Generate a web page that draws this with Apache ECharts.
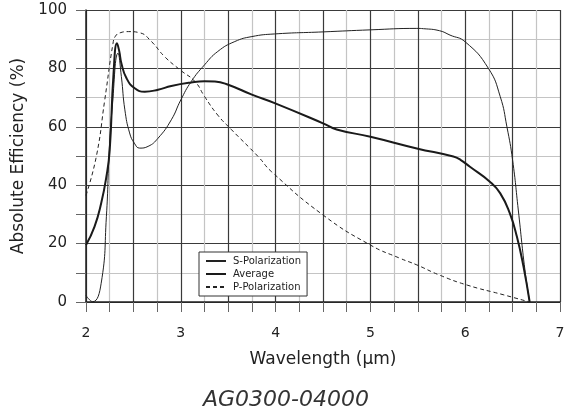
<!DOCTYPE html>
<html>
<head>
<meta charset="utf-8">
<script src="https://cdn.jsdelivr.net/npm/echarts@6/dist/echarts.min.js"></script>
<style>
html,body{margin:0;padding:0;background:#fff;}
#chart{width:571px;height:414px;}
</style>
</head>
<body>
<div id="chart"></div>
<script>
// Wavelength (µm) / efficiency (%)
const sLambda = [2.0, 2.07, 2.16, 2.215, 2.245, 2.275, 2.338, 2.373, 2.41, 2.46, 2.51, 2.567, 2.655, 2.76, 2.9, 3.0, 3.11, 3.25, 3.39, 3.57, 3.75, 3.99, 4.5, 5.0, 5.49, 5.56, 5.73, 5.84, 6.0, 6.245, 6.37, 6.44, 6.5, 6.56, 6.63, 6.68];
const sValues = [2.2, 0.1, 6.4, 29.2, 52, 66, 85.2, 77.2, 65.8, 57.9, 54.4, 52.7, 53.3, 56.1, 62.4, 69.2, 75.5, 81.2, 85.8, 89.2, 90.9, 91.8, 92.5, 93.2, 93.7, 93.6, 92.9, 91.4, 89.1, 80, 70.3, 60, 48.6, 31.5, 11, 0];

const avgLambda = [2.0, 2.09, 2.16, 2.215, 2.25, 2.29, 2.327, 2.35, 2.373, 2.426, 2.514, 2.62, 2.76, 2.9, 3.11, 3.25, 3.36, 3.5, 3.75, 3.99, 4.5, 4.644, 5.0, 5.49, 5.875, 5.95, 6.05, 6.26, 6.37, 6.47, 6.545, 6.615, 6.68];
const avgValues = [19.5, 25.8, 33.8, 42.9, 52, 78, 88.6, 86, 81.8, 76.7, 73.2, 72, 72.7, 74, 75.2, 75.6, 75.5, 74.4, 71, 68.1, 61.2, 59.1, 56.6, 52.6, 49.8, 48.7, 46.3, 41.2, 37.2, 30.4, 22.4, 12.1, 0];

const pLambda = [2.0, 2.11, 2.197, 2.285, 2.31, 2.36, 2.45, 2.567, 2.69, 2.83, 3.0, 3.15, 3.25, 3.39, 3.535, 3.816, 3.958, 4.5, 5.0, 5.31, 5.49, 5.73, 6.02, 6.4, 6.68];
const pValues = [36.5, 50, 69, 88.6, 91, 92.2, 92.6, 92.2, 89.2, 84, 79.3, 75.5, 70.4, 64, 59, 49.8, 44.6, 29.8, 19.5, 15, 12.7, 9.2, 5.8, 2.5, 0];

const seriesNames = ['S-Polarization', 'Average', 'P-Polarization'];
const xTickLabels = ['2', '3', '4', '5', '6', '7'];
const yTickLabels = ['0', '20', '40', '60', '80', '100'];

function pairs(xs, ys) { return xs.map((x, i) => [x, ys[i]]); }

const FONT = '"DejaVu Sans", sans-serif';
const chart = echarts.init(document.getElementById('chart'), null, {renderer: 'canvas'});
chart.setOption({
  backgroundColor: '#ffffff',
  animation: false,
  grid: {left: 86, right: 11, top: 10, bottom: 112, containLabel: false},
  legend: {
    orient: 'vertical',
    left: 199, top: 252,
    width: 110,
    data: seriesNames,
    itemWidth: 20, itemHeight: 8, itemGap: 3,
    borderColor: '#333', borderWidth: 1,
    padding: [4, 6, 4, 6],
    itemStyle: {opacity: 0},
    textStyle: {fontFamily: FONT, fontSize: 10, color: '#222', padding: [0, 0, 0, 2]},
    backgroundColor: '#fff'
  },
  xAxis: {
    type: 'value', min: 2, max: 7, interval: 0.25,
    name: 'Wavelength (\u03bcm)', nameLocation: 'middle', nameGap: 49,
    nameTextStyle: {fontFamily: FONT, fontSize: 17, color: '#222'},
    axisLine: {show: true, onZero: false, lineStyle: {color: '#222', width: 1.5}},
    axisTick: {show: true, length: 10, inside: false, lineStyle: {color: '#666'}},
    axisLabel: {
      margin: 24, fontFamily: FONT, fontSize: 14, color: '#222',
      formatter: v => (Math.abs(v - Math.round(v)) < 1e-6 && xTickLabels.includes(String(Math.round(v)))) ? String(Math.round(v)) : ''
    },
    splitLine: {show: true, lineStyle: {color: ['#3a3a3a', '#c4c4c4'], width: 1.2}}
  },
  yAxis: {
    type: 'value', min: 0, max: 100, interval: 10,
    name: 'Absolute Efficiency (%)', nameLocation: 'middle', nameGap: 54,
    nameTextStyle: {fontFamily: FONT, fontSize: 17, color: '#222'},
    axisLine: {show: true, onZero: false, lineStyle: {color: '#222', width: 1.5}},
    axisTick: {show: true, length: 10, lineStyle: {color: '#666'}},
    axisLabel: {
      margin: 19, fontFamily: FONT, fontSize: 15, color: '#222',
      formatter: v => yTickLabels.includes(String(v)) ? String(v) : ''
    },
    splitLine: {show: true, lineStyle: {color: ['#3a3a3a', '#c4c4c4'], width: 1.2}}
  },
  series: [
    {name: seriesNames[0], type: 'line', data: pairs(sLambda, sValues), symbol: 'none',
     smooth: 0.5, lineStyle: {color: '#222', width: 1}, itemStyle: {color: '#222'}, z: 3},
    {name: seriesNames[1], type: 'line', data: pairs(avgLambda, avgValues), symbol: 'none',
     smooth: 0.5, lineStyle: {color: '#1a1a1a', width: 2}, itemStyle: {color: '#1a1a1a'}, z: 4},
    {name: seriesNames[2], type: 'line', data: pairs(pLambda, pValues), symbol: 'none',
     smooth: 0.5, lineStyle: {color: '#222', width: 1, type: [4, 3]}, itemStyle: {color: '#222'}, z: 3}
  ],
  graphic: [{
    type: 'text', left: 203, top: 389,
    style: {text: 'AG0300-04000', fontFamily: FONT, fontStyle: 'italic', fontSize: 22, fill: '#333'}
  }]
});
</script>
</body>
</html>
